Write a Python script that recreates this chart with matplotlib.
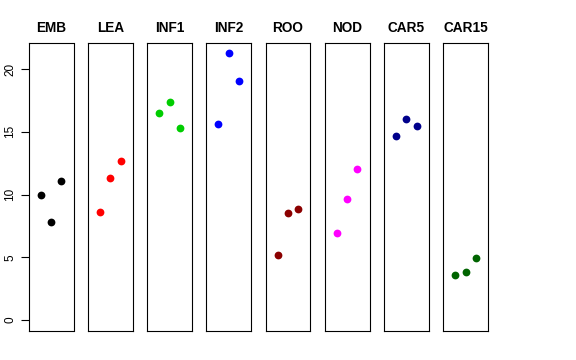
import matplotlib
matplotlib.use("Agg")
import matplotlib.pyplot as plt

plt.rcParams['font.family'] = ['Liberation Sans', 'DejaVu Sans']

tissues = ['EMB', 'LEA', 'INF1', 'INF2', 'ROO', 'NOD', 'CAR5', 'CAR15']
colors = ['black', '#FF0000', '#00CD00', '#0000FF', '#8B0000', '#FF00FF', '#00008B', '#006400']
reps = [1, 2, 3]

emb = [9.98, 7.85, 11.04]
lea = [8.59, 11.31, 12.66]
inf1 = [16.47, 17.40, 15.30]
inf2 = [15.64, 21.25, 19.05]
roo = [5.21, 8.56, 8.83]
nod = [6.97, 9.68, 12.03]
car5 = [14.66, 16.02, 15.43]
car15 = [3.57, 3.81, 4.97]
values = [emb, lea, inf1, inf2, roo, nod, car5, car15]

W, H = 576, 360
fig = plt.figure(figsize=(W / 100, H / 100), dpi=100)

left0 = 28.7
pw = 44.8
pitch = 59.2
top, bottom = 42.7, 330.7

ymax = max(max(v) for v in values)
ext = 0.04 * ymax

for i, (name, col, vals) in enumerate(zip(tissues, colors, values)):
    x0 = left0 + i * pitch
    ax = fig.add_axes([x0 / W, 1 - bottom / H, pw / W, (bottom - top) / H])
    ax.plot(reps, vals, 'o', color=col, markersize=5.6, markeredgewidth=0)
    ax.set_xlim(-0.16, 4.16)
    ax.set_ylim(-ext, ymax + ext)
    ax.set_xticks([])
    ax.set_title(name, fontsize=9.8, fontweight='bold', pad=8)
    for s in ax.spines.values():
        s.set_linewidth(0.8)
    if i == 0:
        ax.set_yticks([0, 5, 10, 15, 20])
        ax.tick_params(axis='y', length=6, width=0.8, labelsize=8.5, pad=3)
        for lab in ax.get_yticklabels():
            lab.set_rotation(90)
            lab.set_va('center')
    else:
        ax.set_yticks([])

fig.savefig('out.png', dpi=100)
